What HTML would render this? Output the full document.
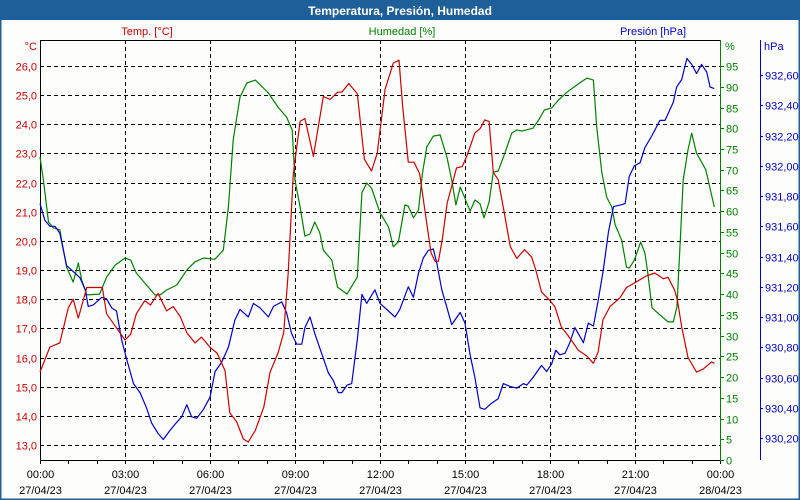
<!DOCTYPE html>
<html><head><meta charset="utf-8"><style>
html,body{margin:0;padding:0;background:#fff}
svg{display:block;font-family:"Liberation Sans","DejaVu Sans",sans-serif}
</style></head><body>
<svg id="chart" width="800" height="500" viewBox="0 0 800 500">
<rect x="0" y="0" width="800" height="500" fill="#fdfefb"/>
<rect x="0.5" y="0.5" width="799" height="499" fill="none" stroke="#1f5f99" stroke-width="2"/>
<rect x="0" y="0" width="800" height="20" fill="#1f5f99"/>
<text x="400" y="15" text-anchor="middle" font-size="12" font-weight="bold" fill="#fff">Temperatura, Presión, Humedad</text>
<text x="147" y="35" text-anchor="middle" font-size="11" fill="#cc0000">Temp. [°C]</text>
<text x="402" y="35" text-anchor="middle" font-size="11" fill="#008000">Humedad [%]</text>
<text x="653" y="35" text-anchor="middle" font-size="11" fill="#0000cc">Presión [hPa]</text>
<text x="37" y="50" text-anchor="end" font-size="11" fill="#cc0000">°C</text>
<text x="725" y="50" font-size="11" fill="#008000">%</text>
<text x="764" y="50" font-size="11" fill="#0000cc">hPa</text>
<g id="grid"></g><g id="axes"></g><g id="series"></g>
</svg>
<script>
const tempTicks=[13,14,15,16,17,18,19,20,21,22,23,24,25,26];
const humTicks=[0,5,10,15,20,25,30,35,40,45,50,55,60,65,70,75,80,85,90,95];
const presTicks=[930.2,930.4,930.6,930.8,931.0,931.2,931.4,931.6,931.8,932.0,932.2,932.4,932.6];
const timeTicks=[0,3,6,9,12,15,18,21,24];
const timeLabels=["00:00","03:00","06:00","09:00","12:00","15:00","18:00","21:00","00:00"];
const dateLabels=["27/04/23","27/04/23","27/04/23","27/04/23","27/04/23","27/04/23","27/04/23","27/04/23","28/04/23"];

const tempHours=[0,0.35,0.7,1.0,1.17,1.35,1.65,2.2,2.35,2.75,3.0,3.2,3.4,3.7,3.9,4.17,4.47,4.7,4.95,5.18,5.47,5.7,6.0,6.25,6.53,6.7,6.94,7.18,7.35,7.6,7.9,8.12,8.4,8.6,8.76,8.94,9.18,9.35,9.65,10.0,10.24,10.5,10.65,10.9,11.2,11.45,11.7,11.9,12.18,12.47,12.67,12.8,13.0,13.2,13.4,13.6,13.8,13.94,14.06,14.2,14.37,14.7,14.9,15.06,15.35,15.53,15.7,15.85,16.0,16.17,16.35,16.6,16.83,17.1,17.35,17.5,17.7,18.0,18.17,18.4,18.64,19.0,19.3,19.53,19.7,19.87,20.12,20.47,20.7,21.06,21.4,21.7,22.0,22.17,22.4,22.5,22.65,22.87,23.17,23.4,23.7,23.8];
const tempValues=[15.5,16.36,16.5,17.7,18.0,17.35,18.4,18.4,17.5,16.95,16.6,16.8,17.5,17.95,17.8,18.2,17.6,17.75,17.4,16.85,16.5,16.7,16.35,16.15,15.55,14.1,13.8,13.2,13.1,13.5,14.3,15.5,16.15,16.85,18.9,22.3,24.1,24.2,22.9,24.95,24.85,25.1,25.1,25.4,25.05,22.8,22.4,23.0,25.2,26.1,26.2,24.6,22.7,22.7,22.3,20.95,19.6,19.3,19.3,20.05,21.3,22.5,22.55,22.9,23.7,23.85,24.15,24.1,22.35,22.1,21.15,19.8,19.4,19.7,19.45,19.0,18.25,17.95,17.75,17.05,16.75,16.25,16.05,15.8,16.2,17.3,17.75,18.05,18.4,18.6,18.8,18.9,18.7,18.75,18.3,17.95,17.05,16.0,15.5,15.6,15.85,15.8];

const humHours=[0,0.12,0.3,0.47,0.7,0.94,1.17,1.35,1.47,1.65,2.1,2.35,2.65,3.0,3.2,3.4,3.76,4.06,4.24,4.47,4.83,5.18,5.47,5.77,6.17,6.47,6.65,6.82,7.06,7.3,7.6,8.06,8.4,8.7,8.9,9.0,9.18,9.35,9.53,9.7,9.88,10.0,10.3,10.5,10.84,11.2,11.36,11.53,11.7,12.0,12.3,12.47,12.65,12.88,13.0,13.18,13.36,13.5,13.65,13.88,14.12,14.36,14.53,14.68,14.83,15.0,15.18,15.35,15.53,15.67,15.85,16.0,16.17,16.41,16.65,16.83,17.0,17.4,17.6,17.8,18.06,18.3,18.6,18.94,19.3,19.53,19.65,19.83,20.0,20.18,20.3,20.53,20.7,20.8,20.98,21.2,21.35,21.45,21.6,21.88,22.17,22.35,22.48,22.6,22.7,22.87,23.0,23.17,23.5,23.8];
const humValues=[73.1,67.5,57.4,56,55.5,46.5,42.9,47.5,43.4,39.8,40.0,44.1,47.0,48.7,48.2,45.1,42.2,39.8,39.8,41,42.2,45.8,47.8,48.7,48.4,50.6,61,77.2,87.5,90.9,91.6,88.5,85.1,82.7,79.6,67.5,61,54,54.5,57.4,54.7,50.6,48.2,41.7,40,44.1,64.4,66.8,65.6,59.6,56.2,51.4,52.6,61.5,61.2,58.4,60.3,69.2,75.5,78.1,78.4,73.1,67.5,61.5,65.8,63.1,60,62.7,61.8,58.4,62.2,69.4,69.7,74,78.8,79.6,79.3,80,82,84.4,84.9,86.8,88.7,90.4,92.1,91.6,80.3,69.2,63.4,61,56.7,53,46.5,46.3,48.2,52.6,49.9,45.1,36.7,35,33.3,33.3,36.9,53,67.5,74.8,78.8,74,70,61];

const presHours=[0,0.17,0.35,0.53,0.7,0.94,1.17,1.41,1.6,1.7,1.88,2.18,2.35,2.53,2.7,2.88,3.06,3.3,3.53,3.76,3.94,4.17,4.35,4.59,4.76,5.0,5.18,5.35,5.53,5.77,6.0,6.18,6.41,6.65,6.88,7.06,7.35,7.53,7.77,8.06,8.24,8.53,8.7,8.88,9.06,9.24,9.35,9.53,9.7,9.94,10.18,10.35,10.53,10.65,10.84,11.0,11.2,11.36,11.53,11.82,12.0,12.3,12.53,12.7,13.0,13.18,13.36,13.53,13.7,13.88,14.0,14.18,14.35,14.53,14.83,15.0,15.18,15.35,15.53,15.7,15.94,16.17,16.35,16.6,16.83,17.06,17.18,17.4,17.7,17.88,18.06,18.2,18.35,18.53,18.7,18.88,19.18,19.35,19.53,19.7,19.88,20.06,20.24,20.47,20.65,20.8,20.98,21.18,21.35,21.6,21.88,22.06,22.35,22.47,22.65,22.83,23.0,23.17,23.35,23.53,23.65,23.8];
const presValues=[931.75,931.64,931.6,931.6,931.555,931.34,931.3,931.26,931.18,931.07,931.08,931.13,931.12,931.06,931.04,930.85,930.72,930.56,930.5,930.4,930.3,930.23,930.19,930.25,930.29,930.34,930.42,930.34,930.33,930.39,930.47,930.64,930.7,930.8,930.98,931.05,931.0,931.09,931.06,931.0,931.07,931.1,931.03,930.89,930.82,930.82,930.93,931.0,930.89,930.76,930.63,930.58,930.5,930.5,930.55,930.56,930.85,931.15,931.09,931.18,931.09,931.04,931.0,931.05,931.2,931.13,931.29,931.39,931.44,931.45,931.36,931.18,931.07,930.95,931.03,930.96,930.75,930.6,930.4,930.39,930.43,930.46,930.56,930.54,930.53,930.56,930.55,930.6,930.68,930.64,930.69,930.78,930.75,930.76,930.83,930.93,930.83,930.96,930.94,931.11,931.31,931.56,931.73,931.74,931.75,931.93,932.0,932.02,932.12,932.2,932.3,932.3,932.42,932.52,932.57,932.71,932.67,932.61,932.67,932.62,932.52,932.51];

const NS="http://www.w3.org/2000/svg";
const L=40,R=720,T=40,B=460;
const xT=h=>L+h*(R-L)/24;
const yTemp=t=>66+(26-t)*29.15;
const yHum=v=>B-v*4.147;
const yPres=p=>438-(p-930.2)*151.25;
function mk(tag,attrs,parent){const e=document.createElementNS(NS,tag);for(const k in attrs)e.setAttribute(k,attrs[k]);parent.appendChild(e);return e;}
const grid=document.getElementById('grid'),axes=document.getElementById('axes'),series=document.getElementById('series');
const fmt=v=>v.toFixed(1).replace('.',',');
tempTicks.forEach(t=>{
 const y=Math.round(yTemp(t))+0.5;
 const g=mk('line',{x1:L,x2:R,y1:y,y2:y,stroke:'#000','stroke-dasharray':'4,3','stroke-width':1},grid);
 
 
 const tx=mk('text',{x:37,y:y+4,'text-anchor':'end','font-size':11,fill:'#cc0000'},axes);
 tx.textContent=fmt(t);
 
 
});
timeTicks.forEach((h,i)=>{
 const x=Math.round(xT(h))+0.5;
 if(i>0&&i<timeTicks.length-1){
  const g=mk('line',{x1:x,x2:x,y1:T,y2:B,stroke:'#000','stroke-dasharray':'4,3','stroke-width':1},grid);
  
  
 }
 const a=mk('text',{x:x,y:478,'text-anchor':'middle','font-size':11,fill:'#000'},axes);
 a.textContent=timeLabels[i];
 
 
 const d=mk('text',{x:x,y:494,'text-anchor':'middle','font-size':11,fill:'#000'},axes);
 d.textContent=dateLabels[i];
 
 
});
for(let h=0;h<=24;h++){
 const x=Math.round(xT(h))+0.5;
 const tk=mk('line',{x1:x,x2:x,y1:B,y2:B+4,stroke:'#000'},axes);
 
 
}
humTicks.forEach(v=>{
 const y=Math.round(yHum(v))+0.5;
 const tk=mk('line',{x1:R,x2:R+4,y1:y,y2:y,stroke:'#008000'},axes);
 
 
 const tx=mk('text',{x:726,y:y+4,'font-size':11,fill:'#008000'},axes);
 tx.textContent=String(v);
 
 
});
presTicks.forEach(p=>{
 const y=Math.round(yPres(p))+0.5;
 const tk=mk('line',{x1:760,x2:763,y1:y,y2:y,stroke:'#0000cc'},axes);
 
 
 const tx=mk('text',{x:765,y:y+4,'font-size':11,fill:'#0000cc'},axes);
 tx.textContent=p.toFixed(2).replace('.',',');
 
 
});
const ax=[[L+0.5,T,L+0.5,B,'#000','temp-axis-line'],[L,T+0.5,R,T+0.5,'#000','plot-top-border'],[L,B+0.5,R+1,B+0.5,'#000','x-axis-line'],[R+0.5,T,R+0.5,B+1,'#008000','humidity-axis-line'],[760.5,T,760.5,B,'#0000cc','pressure-axis-line']];
ax.forEach(a=>{
 const l=mk('line',{x1:a[0],y1:a[1],x2:a[2],y2:a[3],stroke:a[4],'stroke-width':1},axes);
 
 
});
function line(hours,vals,yf,color,name){
 const d=hours.map((h,i)=>(i?'L':'M')+xT(h).toFixed(1)+','+yf(vals[i]).toFixed(1)).join(' ');
 const p=mk('path',{d:d,fill:'none',stroke:color,'stroke-width':1.2,'stroke-linejoin':'round'},series);
 
 
}
line(humHours,humValues,yHum,'#008000','humidity-line');
line(presHours,presValues,yPres,'#0000cc','pressure-line');
line(tempHours,tempValues,yTemp,'#cc0000','temperature-line');
</script>
</body></html>
